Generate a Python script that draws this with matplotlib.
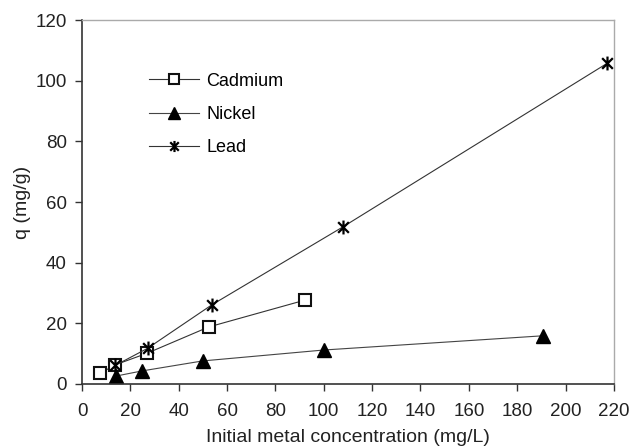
import matplotlib
matplotlib.use("Agg")
import matplotlib.pyplot as plt
from matplotlib.path import Path
import numpy as np

plt.rcParams['font.family'] = ['Liberation Sans', 'DejaVu Sans']

cd_x = [7.5, 13.7, 26.8, 52.4, 92.4]
cd_y = [3.5, 6.3, 10.1, 18.8, 27.7]
ni_x = [14.0, 24.8, 49.9, 100.0, 190.8]
ni_y = [2.6, 4.3, 7.6, 11.2, 15.9]
pb_x = [13.7, 27.2, 53.7, 107.9, 217.3]
pb_y = [6.1, 11.8, 26.1, 51.8, 105.8]

# Excel-like star marker: x plus vertical line
star = Path([(-1, -1), (1, 1), (-1, 1), (1, -1), (0, -1.3), (0, 1.3)],
            [Path.MOVETO, Path.LINETO, Path.MOVETO, Path.LINETO, Path.MOVETO, Path.LINETO])

fig = plt.figure(figsize=(6.29, 4.47), dpi=100)
ax = fig.add_axes([0.1304, 0.141, 0.976 - 0.1304, 0.955 - 0.141])

ax.plot(cd_x, cd_y, color='#333333', lw=0.8, marker='s', ms=9, mfc='white',
        mec='#111111', mew=1.5, label='Cadmium')
ax.plot(ni_x, ni_y, color='#444444', lw=0.8, marker='^', ms=10, mfc='black',
        mec='black', label='Nickel')
ax.plot(pb_x, pb_y, color='#333333', lw=0.8, marker=star, ms=10, mfc='none',
        mec='black', mew=1.6, label='Lead')

ax.set_xlim(0, 220)
ax.set_ylim(0, 120)
ax.set_xticks(np.arange(0, 221, 20))
ax.set_yticks(np.arange(0, 121, 20))
ax.tick_params(direction='out', length=5, width=1, labelsize=13.5, color='#333333',
               labelcolor='#222222')
ax.tick_params(axis='x', pad=9)
ax.tick_params(axis='y', pad=6)
for s in ['left', 'bottom']:
    ax.spines[s].set_color('#333333')
    ax.spines[s].set_linewidth(1.2)
for s in ['top', 'right']:
    ax.spines[s].set_color('#aaaaaa')
    ax.spines[s].set_linewidth(1.0)

ax.set_xlabel('Initial metal concentration (mg/L)', fontsize=14, color='#222222', labelpad=6)
ax.set_ylabel('q (mg/g)', fontsize=14, color='#222222', labelpad=3)

leg = ax.legend(loc='upper left', bbox_to_anchor=(0.095, 0.9), frameon=False,
                fontsize=13, handlelength=2.8, labelspacing=0.9, handletextpad=0.4,
                markerscale=0.8)

fig.savefig('out.png', dpi=100)
